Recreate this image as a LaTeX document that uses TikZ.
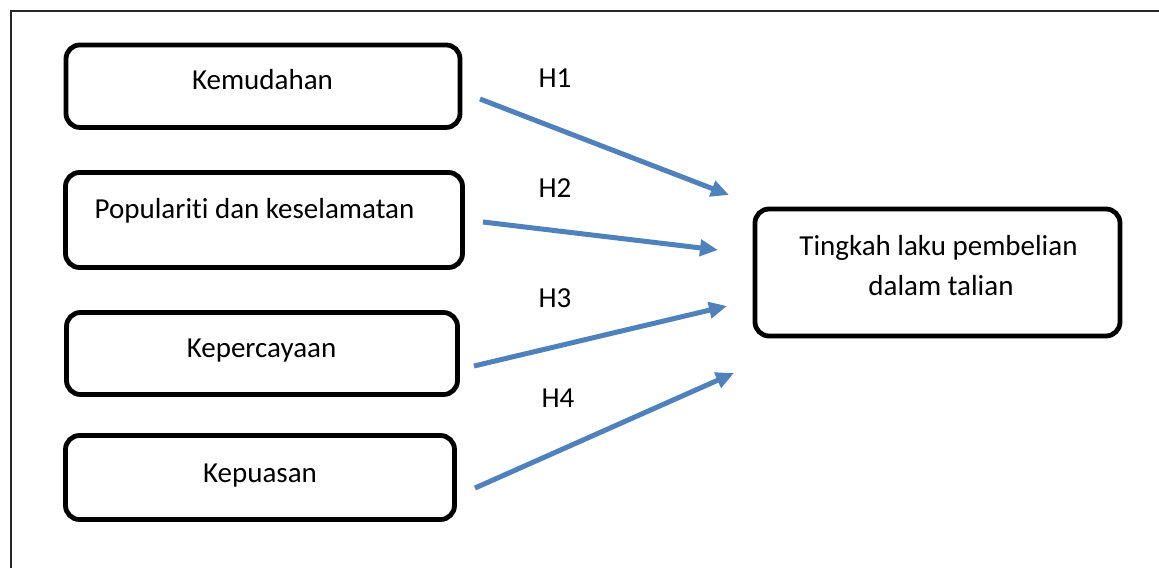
\documentclass[tikz,border=0pt]{standalone}
\usepackage{fontspec}
\setmainfont[Ligatures=NoCommon]{Carlito}
\usetikzlibrary{arrows.meta}
\definecolor{arrowblue}{HTML}{4F81BD}
\begin{document}
\begin{tikzpicture}[x=1pt,y=-1pt,
  box/.style={draw=black, line width=4.8pt, rounded corners=14pt, inner sep=0pt},
  txt/.style={anchor=base, inner sep=0pt, font=\fontsize{29}{40}\selectfont},
  hyp/.style={draw=arrowblue, line width=5pt, -{Triangle[length=18pt,width=16pt]}}]
\useasboundingbox (0,0) rectangle (1159,568);
% frame (open on right and bottom)
\draw[line width=2pt, black!85] (11,568) -- (11,10.5) -- (1159,10.5);
% boxes
\node[box, minimum width=394pt, minimum height=82.5pt] (k1) at (263,86.2) {};
\node[box, minimum width=397pt, minimum height=95pt] (k2) at (264,220) {};
\node[box, minimum width=391pt, minimum height=82pt] (k3) at (262,353.5) {};
\node[box, minimum width=389pt, minimum height=84pt] (k4) at (260,477.5) {};
\node[box, minimum width=365pt, minimum height=127pt] (y) at (937.5,272.5) {};
% texts
\node[txt] (t1) at (262.5,89) {Kemudahan};
\node[txt] (t2) at (254.5,218) {Populariti dan keselamatan};
\node[txt] (t3) at (261.5,357) {Kepercayaan};
\node[txt] (t4) at (260,482) {Kepuasan};
\node[txt] (t5a) at (938.5,255) {Tingkah laku pembelian};
\node[txt] (t5b) at (941,295) {dalam talian};
% arrow ends
\coordinate (s1) at (480,99);  \coordinate (e1) at (729,195);
\coordinate (s2) at (483,222); \coordinate (e2) at (718,250);
\coordinate (s3) at (474,366); \coordinate (e3) at (727,306);
\coordinate (s4) at (475,488); \coordinate (e4) at (734,373);
\draw[hyp] (s1) -- (e1);
\draw[hyp] (s2) -- (e2);
\draw[hyp] (s3) -- (e3);
\draw[hyp] (s4) -- (e4);
% labels
\node[txt] (h1) at (555,87) {H1};
\node[txt] (h2) at (555,197) {H2};
\node[txt] (h3) at (555,307) {H3};
\node[txt] (h4) at (558,407) {H4};
\end{tikzpicture}
\end{document}
